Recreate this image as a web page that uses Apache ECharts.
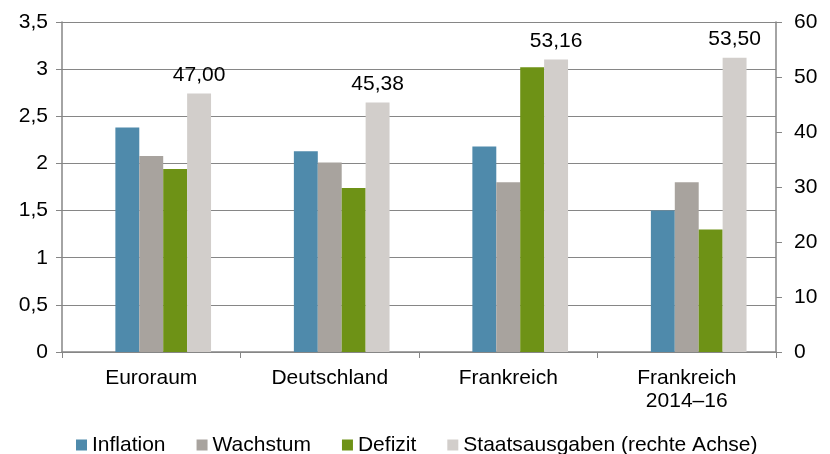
<!DOCTYPE html>
<html><head><meta charset="utf-8">
<script src="https://cdn.jsdelivr.net/npm/echarts@6/dist/echarts.min.js"></script>
<style>html,body{margin:0;padding:0;background:#fff}#c{width:830px;height:454px}</style>
</head><body><div id="c"></div>
<script>
const categories = ['Euroraum', 'Deutschland', 'Frankreich', 'Frankreich\n2014–16'];
const inflation = [2.38, 2.13, 2.18, 1.50];
const wachstum = [2.08, 2.01, 1.80, 1.80];
const defizit = [1.94, 1.74, 3.02, 1.30];
const staatsausgaben = [47.00, 45.38, 53.16, 53.50];
const emptySlot = [null, null, null, null];
const leftTicks = ['0', '0,5', '1', '1,5', '2', '2,5', '3', '3,5'];

const chart = echarts.init(document.getElementById('c'));
const font = '"Liberation Sans", Arial, sans-serif';
const gap = '33%';
chart.setOption({
  animation: false,
  textStyle: { fontFamily: font },
  grid: { left: 62, right: 54, top: 22, bottom: 102 },
  legend: {
    top: 433, left: 76, itemWidth: 11, itemHeight: 11, itemGap: 31,
    icon: 'rect', padding: 0,
    textStyle: { fontSize: 21, color: '#000', fontFamily: font, lineHeight: 24 },
    data: ['Inflation', 'Wachstum', 'Defizit', 'Staatsausgaben (rechte Achse)']
  },
  xAxis: {
    type: 'category', data: categories,
    axisLine: { lineStyle: { color: '#868686', width: 1.5 } },
    axisTick: { show: true, length: 6, lineStyle: { color: '#868686' } },
    axisLabel: { fontSize: 21, color: '#000', margin: 15, lineHeight: 23 }
  },
  yAxis: [
    { type: 'value', min: 0, max: 3.5, interval: 0.5,
      axisLine: { show: true, lineStyle: { color: '#868686', width: 1.5 } },
      axisTick: { show: true, length: 6, lineStyle: { color: '#868686' } },
      splitLine: { lineStyle: { color: '#868686', width: 1 } },
      axisLabel: { fontSize: 21, color: '#000', margin: 14,
        formatter: (v) => leftTicks[Math.round(v * 2)] } },
    { type: 'value', min: 0, max: 60, interval: 10, position: 'right',
      axisLine: { show: true, lineStyle: { color: '#868686', width: 1.5 } },
      axisTick: { show: true, length: 6, lineStyle: { color: '#868686' } },
      splitLine: { show: false },
      axisLabel: { fontSize: 21, color: '#000', margin: 18 } }
  ],
  series: [
    { name: '_leer', type: 'bar', data: emptySlot, yAxisIndex: 0,
      barGap: '0%', barCategoryGap: gap, silent: true },
    { name: 'Inflation', type: 'bar', data: inflation, yAxisIndex: 0,
      itemStyle: { color: '#4f8aab' }, barGap: '0%', barCategoryGap: gap },
    { name: 'Wachstum', type: 'bar', data: wachstum, yAxisIndex: 0,
      itemStyle: { color: '#a8a39e' }, barGap: '0%', barCategoryGap: gap },
    { name: 'Defizit', type: 'bar', data: defizit, yAxisIndex: 0,
      itemStyle: { color: '#6e9216' }, barGap: '0%', barCategoryGap: gap },
    { name: 'Staatsausgaben (rechte Achse)', type: 'bar', data: staatsausgaben, yAxisIndex: 1,
      itemStyle: { color: '#d2cecb' }, barGap: '0%', barCategoryGap: gap,
      label: { show: true, position: 'top', distance: 8, fontSize: 21, color: '#000',
        formatter: (p) => p.value.toFixed(2).replace('.', ',') } }
  ]
});
</script></body></html>
